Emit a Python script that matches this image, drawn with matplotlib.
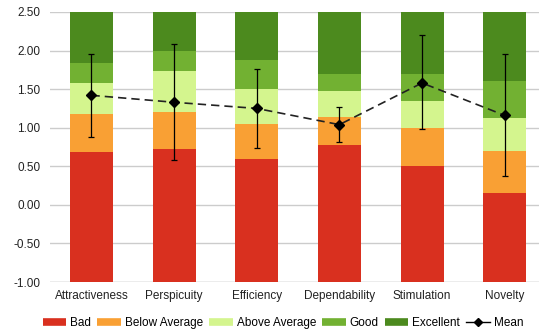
import matplotlib
matplotlib.use("Agg")
import matplotlib.pyplot as plt
import numpy as np
from matplotlib.lines import Line2D

plt.rcParams['font.family'] = ['Liberation Sans', 'DejaVu Sans']

categories = ["Attractiveness", "Perspicuity", "Efficiency", "Dependability", "Stimulation", "Novelty"]
# upper boundaries of benchmark ranges
bad_top = [0.69, 0.72, 0.60, 0.78, 0.50, 0.16]
below_top = [1.18, 1.20, 1.05, 1.14, 1.00, 0.70]
above_top = [1.58, 1.73, 1.50, 1.48, 1.35, 1.12]
good_top = [1.84, 2.00, 1.88, 1.70, 1.70, 1.60]
excellent_top = [2.50, 2.50, 2.50, 2.50, 2.50, 2.50]
means = [1.42, 1.33, 1.25, 1.04, 1.58, 1.16]
ci_low = [0.88, 0.58, 0.74, 0.81, 0.98, 0.38]
ci_high = [1.96, 2.09, 1.76, 1.27, 2.20, 1.95]

series = ["Bad", "Below Average", "Above Average", "Good", "Excellent"]
colors = ["#D9301F", "#F9A034", "#D4F58E", "#72B132", "#4C8A1E"]
tops = [bad_top, below_top, above_top, good_top, excellent_top]

fig = plt.figure(figsize=(5.39, 3.33), dpi=100)
ax = fig.add_axes([0.093, 0.153, 0.92, 0.811])
x = np.arange(len(categories))
bottom = np.full(len(categories), -1.0)
for name, col, top in zip(series, colors, tops):
    top = np.array(top)
    ax.bar(x, top - bottom, bottom=bottom, width=0.52, color=col, label=name, zorder=2)
    bottom = top

means_a = np.array(means)
yerr = [means_a - np.array(ci_low), np.array(ci_high) - means_a]
ax.errorbar(x, means, yerr=yerr, fmt='none', ecolor='black', elinewidth=0.9, capsize=2.5, capthick=0.9, zorder=3)
ax.plot(x, means, color='#222222', linestyle=(0, (5, 3)), linewidth=1.2, marker='D', markersize=5.5,
        markerfacecolor='black', markeredgecolor='black', label='Mean', zorder=4)

ax.set_ylim(-1, 2.5)
ax.set_xlim(-0.5, len(categories) - 0.5)
yt = np.arange(-1.0, 2.51, 0.5)
ax.set_yticks(yt)
ax.set_yticklabels([f"{v:.2f}" for v in yt], fontsize=8.5, color='#222222')
ax.set_xticks(x)
ax.set_xticklabels(categories, fontsize=8.5, color='#222222')
ax.tick_params(length=0, pad=6)
ax.tick_params(axis='y', pad=7)
ax.yaxis.grid(True, color='#CCCCCC', linewidth=1.0, zorder=0)
for s in ax.spines.values():
    s.set_visible(False)
ax.axhline(-1, color='#CCCCCC', linewidth=1.0, zorder=1)

hs = [Line2D([0], [0], color=c, linewidth=5.5, solid_capstyle='butt') for c in colors]
hs.append(Line2D([0], [0], color='black', linewidth=1, marker='D', markersize=4))
fig.legend(hs, series + ['Mean'], loc='center', bbox_to_anchor=(0.525, 0.03), ncol=6, frameon=False,
           fontsize=8.5, handlelength=2.0, handletextpad=0.35, columnspacing=0.5)

fig.savefig("out.png", dpi=100)
